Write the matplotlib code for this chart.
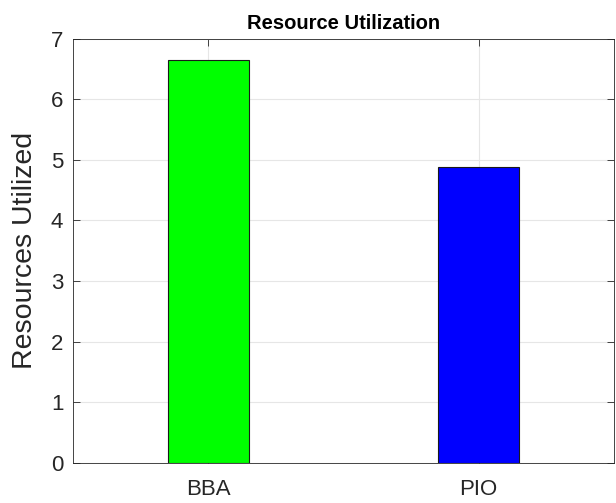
import matplotlib
matplotlib.use('Agg')
import matplotlib.pyplot as plt

plt.rcParams['font.family'] = ['Liberation Sans', 'DejaVu Sans']

# data
methods = ['BBA', 'PIO']
resources = [6.65, 4.88]
bar_colors = ['#00ff00', '#0000ff']

fig = plt.figure(figsize=(6.16, 5.03), dpi=100)
ax = fig.add_axes([0.1185, 0.0805, 0.878, 0.842])

x = list(range(1, len(methods) + 1))
ax.bar(x, resources, width=0.3, color=bar_colors, edgecolor='#1a1a1a', linewidth=0.8, zorder=3)

ax.set_xlim(0.5, 2.5)
ax.set_ylim(0, 7)
ax.set_xticks(x)
ax.set_xticklabels(methods)
ax.set_yticks(range(0, 8))
ax.grid(True, color='#e6e6e6', linewidth=0.8, zorder=0)
ax.tick_params(direction='in', top=True, right=True, labelsize=16, colors='#262626',
               length=5, width=0.6)
ax.tick_params(axis='y', pad=7)
ax.tick_params(axis='x', pad=12)
for s in ax.spines.values():
    s.set_color('#262626')
    s.set_linewidth(0.6)

ax.set_ylabel('Resources Utilized', fontsize=20.5, color='#262626')
ax.yaxis.set_label_coords(-0.064, 0.5)
ax.set_title('Resource Utilization', fontsize=14.5, fontweight='bold', pad=7)

fig.savefig('out.png', dpi=100)
